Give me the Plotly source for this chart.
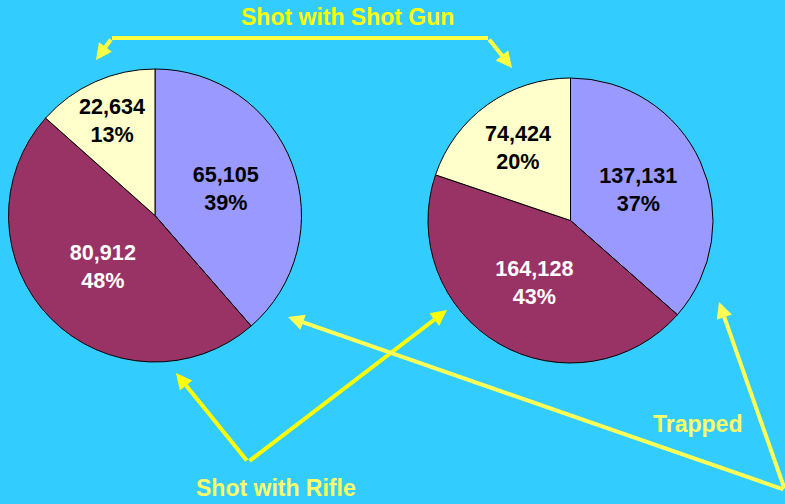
import plotly.graph_objects as go

W, H = 785, 504

categories = ["Shot with Shot Gun", "Shot with Rifle", "Trapped"]
left_values = [65105, 80912, 22634]
left_pcts = ["39%", "48%", "13%"]
right_values = [137131, 164128, 74424]
right_pcts = ["37%", "43%", "20%"]

slice_colors = ["#9999FF", "#993366", "#FFFFCC"]
text_colors = ["black", "white", "black"]
bg = "#33CCFF"
yellow = "#FFFF00"
pale_yellow = "#FFFF66"
FONT = "Arial, Liberation Sans, sans-serif"


def px(x):
    return x / W


def py(y):
    return 1 - y / H


def make_text(vals, pcts):
    return [f"<b>{v:,}<br>{p}</b>" for v, p in zip(vals, pcts)]


fig = go.Figure()

for vals, pcts, (x0, x1, y0, y1), fsize in [
    (left_values, left_pcts, (8, 302, 69, 362), 22),
    (right_values, right_pcts, (428, 713, 78, 363), 23),
]:
    fig.add_trace(go.Pie(
        labels=categories,
        values=vals,
        text=make_text(vals, pcts),
        textinfo="text",
        textposition="inside",
        insidetextorientation="horizontal",
        sort=False,
        direction="clockwise",
        rotation=0,
        marker=dict(colors=slice_colors, line=dict(color="black", width=1)),
        textfont=dict(family=FONT, size=fsize, color=text_colors),
        hoverinfo="label+value",
        showlegend=False,
        domain=dict(x=[px(x0), px(x1)], y=[py(y1), py(y0)]),
    ))

shapes = []


def seg(p, q, color):
    shapes.append(dict(type="line", xref="paper", yref="paper",
                       x0=px(p[0]), y0=py(p[1]), x1=px(q[0]), y1=py(q[1]),
                       line=dict(color=color, width=4)))


annotations = []


def arrow(tail, tip, color):
    annotations.append(dict(
        xref="paper", yref="paper", x=px(tip[0]), y=py(tip[1]),
        ax=tail[0] - tip[0], ay=tail[1] - tip[1], axref="pixel", ayref="pixel",
        showarrow=True, arrowhead=2, arrowsize=0.8, arrowwidth=4,
        arrowcolor=color, text=""))


def label(text, x, y, color, size):
    annotations.append(dict(
        xref="paper", yref="paper", x=px(x), y=py(y), text=f"<b>{text}</b>",
        showarrow=False, xanchor="center", yanchor="middle",
        font=dict(family=FONT, size=size, color=color)))


# Shot with Shot Gun bracket
seg((112, 38), (488, 38), "#FFFF44")
arrow((112, 38), (96, 60), "#FFFF44")
arrow((488, 38), (512, 68), "#FFFF44")
label(categories[0], 347, 17, yellow, 23)

# Shot with Rifle V
arrow((248, 462), (176, 373), yellow)
arrow((248, 462), (447, 310), yellow)
label(categories[1], 276, 488, pale_yellow, 23)

# Trapped
conv = (790, 490)
arrow(conv, (288, 317), "#FFFF55")
arrow(conv, (719, 302), "#FFFF55")
label(categories[2], 697, 424, pale_yellow, 23)

fig.update_layout(
    width=W, height=H,
    margin=dict(l=0, r=0, t=0, b=0),
    paper_bgcolor=bg, plot_bgcolor=bg,
    shapes=shapes, annotations=annotations,
    uniformtext=dict(minsize=10, mode="show"),
)

fig.write_html("out.html", config={"displayModeBar": False},
               post_script="document.body.style.margin='0';document.body.style.padding='0';")
